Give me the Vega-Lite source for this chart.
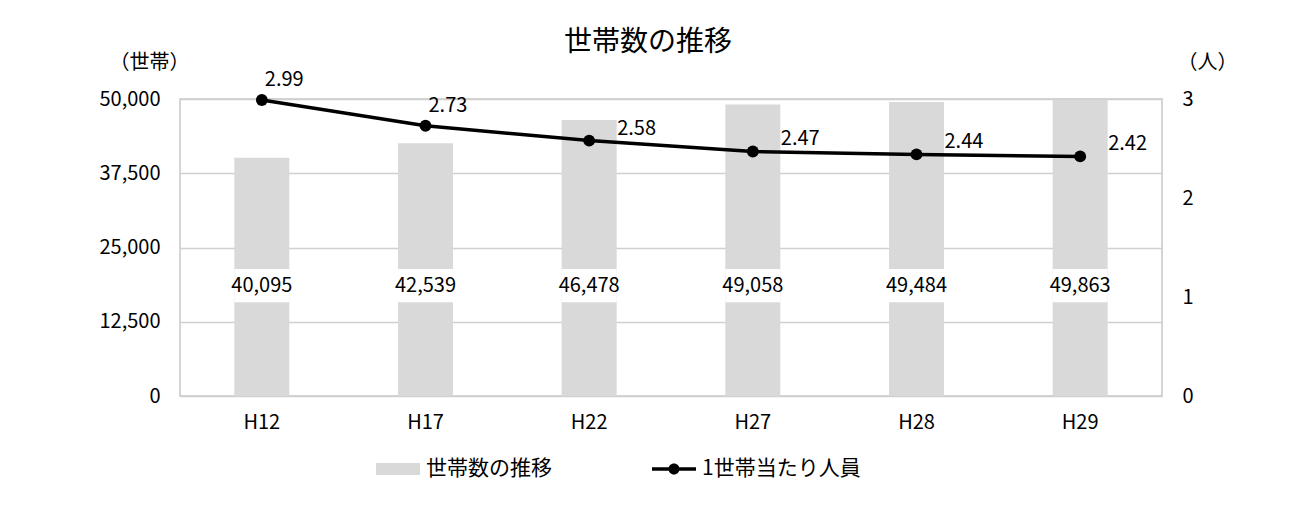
{
  "$schema": "https://vega.github.io/schema/vega-lite/v6.json",
  "width": 982,
  "height": 297,
  "padding": {"left": 180, "top": 99, "right": 129, "bottom": 112},
  "autosize": {"type": "none"},
  "background": "white",
  "config": {
    "font": "Noto Sans CJK JP",
    "view": {"stroke": "#c8c8c8", "strokeWidth": 1.5},
    "axis": {"labelFont": "Noto Sans CJK JP", "titleFont": "Noto Sans CJK JP", "labelColor": "#000000", "titleColor": "#000000", "labelFontSize": 20, "titleFontSize": 20, "titleFontWeight": "normal"},
    "legend": {"labelFont": "Noto Sans CJK JP", "labelFontSize": 21, "labelColor": "#000000"}
  },
  "title": {"text": "世帯数の推移", "fontSize": 28, "fontWeight": "normal", "color": "#000000", "font": "Noto Sans CJK JP", "anchor": "middle", "dx": -23, "offset": -5},
  "data": {
    "values": [
      {"year": "H12", "households": 40095, "persons": 2.99},
      {"year": "H17", "households": 42539, "persons": 2.73},
      {"year": "H22", "households": 46478, "persons": 2.58},
      {"year": "H27", "households": 49058, "persons": 2.47},
      {"year": "H28", "households": 49484, "persons": 2.44},
      {"year": "H29", "households": 49863, "persons": 2.42}
    ]
  },
  "encoding": {
    "x": {
      "field": "year", "type": "nominal", "sort": null,
      "scale": {"paddingInner": 0.664, "paddingOuter": 0.332},
      "axis": {"title": null, "labelAngle": 0, "ticks": false, "domain": false, "labelPadding": 16, "grid": false}
    }
  },
  "layer": [
    {
      "layer": [
        {
          "mark": {"type": "bar", "color": "#d9d9d9"},
          "encoding": {
            "y": {
              "field": "households", "type": "quantitative",
              "scale": {"domain": [0, 50000]},
              "axis": {"values": [0, 12500, 25000, 37500, 50000], "labelExpr": "format(datum.value, ',')", "title": "（世帯）", "titleAngle": 0, "titleX": -31, "titleY": -37, "titleAlign": "center", "titleBaseline": "middle", "ticks": false, "domain": false, "labelPadding": 20, "grid": true, "gridColor": "#d0d0d0", "gridWidth": 1.5},
              "title": "（世帯）"
            },
            "color": {"datum": "世帯数の推移", "type": "nominal", "scale": {"domain": ["世帯数の推移", "1世帯当たり人員"], "range": ["#d9d9d9", "#000000"]},
              "legend": {
                "title": null, "orient": "none", "direction": "horizontal", "legendX": 196, "legendY": 348, "padding": 0,
                "columnPadding": 100, "labelOffset": 6, "symbolSize": 1936, "symbolStrokeWidth": 0,
                "labelLimit": 300,
                "encode": {
                  "symbols": {"update": {
                    "shape": {"signal": "datum.value === '世帯数の推移' ? 'M-1,-0.27L1,-0.27L1,0.27L-1,0.27Z' : 'M-1,-0.08L1,-0.08L1,0.08L-1,0.08Z M0.25,0 A0.25,0.25 0 1,1 -0.25,0 A0.25,0.25 0 1,1 0.25,0 Z'"},
                    "fill": {"signal": "datum.value === '世帯数の推移' ? '#d9d9d9' : '#000000'"},
                    "fillOpacity": {"value": 1},
                    "strokeWidth": {"value": 0}
                  }}
                }
              }
            }
          }
        },
        {
          "mark": {"type": "bar", "color": "#ffffff"},
          "encoding": {
            "y": {"datum": 15800, "type": "quantitative"},
            "y2": {"datum": 21400}
          }
        },
        {
          "mark": {"type": "text", "fontSize": 20, "color": "#000000", "baseline": "middle"},
          "encoding": {
            "y": {"datum": 18600, "type": "quantitative"},
            "text": {"field": "households", "type": "quantitative", "format": ","}
          }
        }
      ]
    },
    {
      "layer": [
        {
          "mark": {"type": "line", "color": "#000000", "strokeWidth": 3.5, "point": {"filled": true, "size": 140, "color": "#000000"}},
          "encoding": {
            "y": {
              "field": "persons", "type": "quantitative",
              "scale": {"domain": [0, 3]},
              "axis": {"orient": "right", "values": [0, 1, 2, 3], "labelExpr": "format(datum.value, 'd')", "title": "（人）", "titleAngle": 0, "titleX": 45, "titleY": -37, "titleAlign": "center", "titleBaseline": "middle", "ticks": false, "domain": false, "labelPadding": 20, "grid": false, "labelAlign": "left"}
            },
            "color": {"datum": "1世帯当たり人員", "type": "nominal"}
          }
        },
        {
          "transform": [{"filter": "datum.year === 'H12' || datum.year === 'H17'"}],
          "mark": {"type": "text", "fontSize": 20, "color": "#000000", "align": "left", "baseline": "middle", "dx": 3, "dy": -20},
          "encoding": {
            "y": {"field": "persons", "type": "quantitative"},
            "text": {"field": "persons", "type": "quantitative", "format": ".2f"}
          }
        },
        {
          "transform": [{"filter": "datum.year !== 'H12' && datum.year !== 'H17'"}],
          "mark": {"type": "text", "fontSize": 20, "color": "#000000", "align": "left", "baseline": "middle", "dx": 28, "dy": -12},
          "encoding": {
            "y": {"field": "persons", "type": "quantitative"},
            "text": {"field": "persons", "type": "quantitative", "format": ".2f"}
          }
        }
      ],
      "resolve": {"scale": {"y": "shared"}}
    }
  ],
  "resolve": {"scale": {"y": "independent"}}
}
